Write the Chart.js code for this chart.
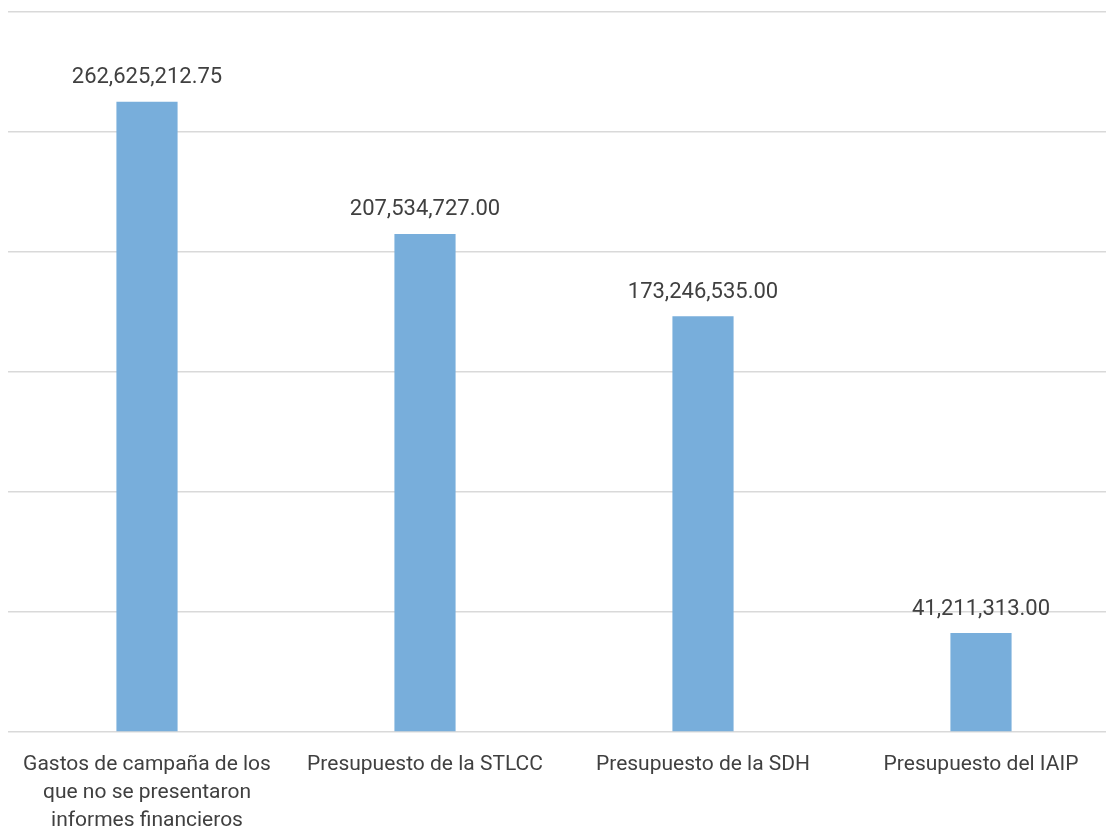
<!DOCTYPE html>
<html lang="es">
<head>
    <meta charset="UTF-8">
    <title>Presupuestos</title>
    <script src="https://cdn.jsdelivr.net/npm/chart.js"></script>
    <style>
        html, body {
            margin: 0;
            padding: 0;
            background: #ffffff;
            overflow: hidden;
        }
        .chart-box {
            width: 1120px; /* a bit wider than the window, the right edge is cut like the original */
            height: 830px;
        }
    </style>
</head>
<body>
    <div class="chart-box">
        <canvas id="budgetChart"></canvas>
    </div>

    <script>
        const categories = [
            ['Gastos de campaña de los', 'que no se presentaron', 'informes financieros'],
            'Presupuesto de la STLCC',
            'Presupuesto de la SDH',
            'Presupuesto del IAIP'
        ];
        const amounts = [262625212.75, 207534727.00, 173246535.00, 41211313.00];
        const yMax = 300000000;
        const yStep = 50000000;

        const fmt = new Intl.NumberFormat('en-US', { minimumFractionDigits: 2, maximumFractionDigits: 2 });

        // writes the amount above every bar
        const valueLabels = {
            id: 'valueLabels',
            afterDatasetsDraw(chart) {
                const ctx = chart.ctx;
                const meta = chart.getDatasetMeta(0);
                ctx.save();
                ctx.font = '22px Roboto';
                ctx.fillStyle = '#404040';
                ctx.textAlign = 'center';
                ctx.textBaseline = 'middle';
                meta.data.forEach((bar, i) => {
                    ctx.fillText(fmt.format(amounts[i]), bar.x, bar.y - 24);
                });
                ctx.restore();
            }
        };

        new Chart(document.getElementById('budgetChart'), {
            type: 'bar',
            data: {
                labels: categories,
                datasets: [{
                    data: amounts,
                    backgroundColor: '#78aedb',
                    categoryPercentage: 1,
                    barPercentage: 0.22
                }]
            },
            options: {
                responsive: true,
                maintainAspectRatio: false,
                animation: false,
                layout: { padding: { left: 8, top: 12, right: 0, bottom: 0 } },
                plugins: {
                    legend: { display: false },
                    tooltip: { enabled: false }
                },
                scales: {
                    x: {
                        grid: { display: false },
                        border: { display: false },
                        ticks: {
                            color: '#404040',
                            font: { family: 'Roboto', size: 21, lineHeight: 1.33 },
                            maxRotation: 0,
                            autoSkip: false,
                            padding: 11
                        },
                        afterFit(scale) { scale.height = 98; }
                    },
                    y: {
                        min: 0,
                        max: yMax,
                        ticks: { display: false, stepSize: yStep },
                        grid: { color: '#d9d9d9', lineWidth: 1.5, drawTicks: false },
                        border: { display: false },
                        afterFit(scale) { scale.width = 0; }
                    }
                }
            },
            plugins: [valueLabels]
        });
    </script>
</body>
</html>
